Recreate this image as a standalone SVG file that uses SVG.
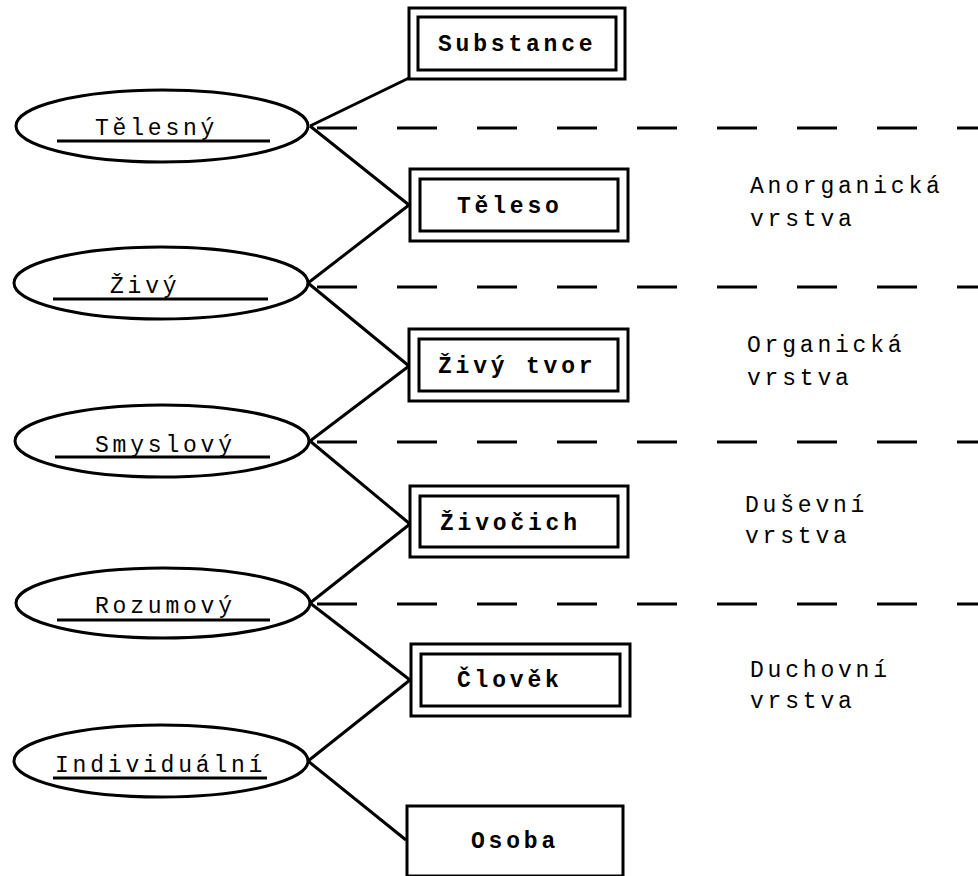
<svg xmlns="http://www.w3.org/2000/svg" width="978" height="876" viewBox="0 0 978 876">
<style>
  .ell { fill: #fff; stroke: #000; stroke-width: 3; }
  .box { fill: #fff; stroke: #000; stroke-width: 3; }
  .ul { stroke: #000; stroke-width: 3; }
  .con { stroke: #000; stroke-width: 3; fill: none; }
  .dash { stroke: #000; stroke-width: 3; stroke-dasharray: 40 40; fill: none; }
  .t { font-family: "Liberation Mono", "Courier New", monospace; font-size: 23px; letter-spacing: 3.8px; fill: #000; }
  .b { font-weight: bold; }
</style>
<rect width="978" height="876" fill="#fff"/>
<g id="layers">
  <line class="dash" x1="317" y1="128" x2="978" y2="128"/>
  <line class="dash" x1="317" y1="287" x2="978" y2="287"/>
  <line class="dash" x1="317" y1="442" x2="978" y2="442"/>
  <line class="dash" x1="317" y1="604" x2="978" y2="604"/>
  <text class="t" x="750" y="193">Anorganická</text>
  <text class="t" x="750" y="226">vrstva</text>
  <text class="t" x="747" y="352">Organická</text>
  <text class="t" x="747" y="385">vrstva</text>
  <text class="t" x="745" y="512">Duševní</text>
  <text class="t" x="745" y="543">vrstva</text>
  <text class="t" x="750" y="677">Duchovní</text>
  <text class="t" x="750" y="708">vrstva</text>
</g>
<g id="connectors">
  <line class="con" x1="310" y1="126" x2="409" y2="78"/>
  <line class="con" x1="310" y1="126" x2="409" y2="205"/>
  <line class="con" x1="308" y1="283" x2="409" y2="205"/>
  <line class="con" x1="308" y1="283" x2="409" y2="366"/>
  <line class="con" x1="310" y1="441" x2="409" y2="366"/>
  <line class="con" x1="310" y1="441" x2="410" y2="524"/>
  <line class="con" x1="310" y1="603" x2="410" y2="524"/>
  <line class="con" x1="310" y1="603" x2="410" y2="680"/>
  <line class="con" x1="308" y1="761" x2="410" y2="680"/>
  <line class="con" x1="308" y1="761" x2="406" y2="840"/>
</g>
<g id="telesny">
  <ellipse class="ell" cx="162" cy="126" rx="146" ry="36"/>
  <text class="t" x="95" y="135">Tělesný</text>
  <line class="ul" x1="57" y1="141" x2="270" y2="141"/>
</g>
<g id="zivy">
  <ellipse class="ell" cx="161" cy="283" rx="147" ry="36"/>
  <text class="t" x="110" y="293">Živý</text>
  <line class="ul" x1="53" y1="299" x2="268" y2="299"/>
</g>
<g id="smyslovy">
  <ellipse class="ell" cx="162" cy="441" rx="147" ry="36"/>
  <text class="t" x="95" y="452">Smyslový</text>
  <line class="ul" x1="55" y1="457" x2="270" y2="457"/>
</g>
<g id="rozumovy">
  <ellipse class="ell" cx="163" cy="603" rx="147" ry="35"/>
  <text class="t" x="95" y="613">Rozumový</text>
  <line class="ul" x1="57" y1="620" x2="270" y2="620"/>
</g>
<g id="individualni">
  <ellipse class="ell" cx="161" cy="761" rx="147" ry="36"/>
  <text class="t" x="55" y="772">Individuální</text>
  <line class="ul" x1="53" y1="778" x2="267" y2="778"/>
</g>
<g id="substance">
  <rect class="box" x="409" y="8" width="216" height="71"/>
  <rect class="box" x="418" y="17" width="198" height="53"/>
  <text class="t b" x="438" y="51">Substance</text>
</g>
<g id="teleso">
  <rect class="box" x="410" y="169" width="218" height="72"/>
  <rect class="box" x="420" y="179" width="198" height="52"/>
  <text class="t b" x="457" y="213">Těleso</text>
</g>
<g id="zivy-tvor">
  <rect class="box" x="409" y="329" width="219" height="72"/>
  <rect class="box" x="419" y="339" width="199" height="52"/>
  <text class="t b" x="438" y="373">Živý tvor</text>
</g>
<g id="zivocich">
  <rect class="box" x="410" y="486" width="218" height="71"/>
  <rect class="box" x="420" y="496" width="198" height="51"/>
  <text class="t b" x="440" y="530">Živočich</text>
</g>
<g id="clovek">
  <rect class="box" x="411" y="644" width="219" height="72"/>
  <rect class="box" x="421" y="654" width="199" height="52"/>
  <text class="t b" x="457" y="687">Člověk</text>
</g>
<g id="osoba">
  <rect class="box" x="407" y="806" width="216" height="70"/>
  <text class="t b" x="471" y="848">Osoba</text>
</g>
</svg>
